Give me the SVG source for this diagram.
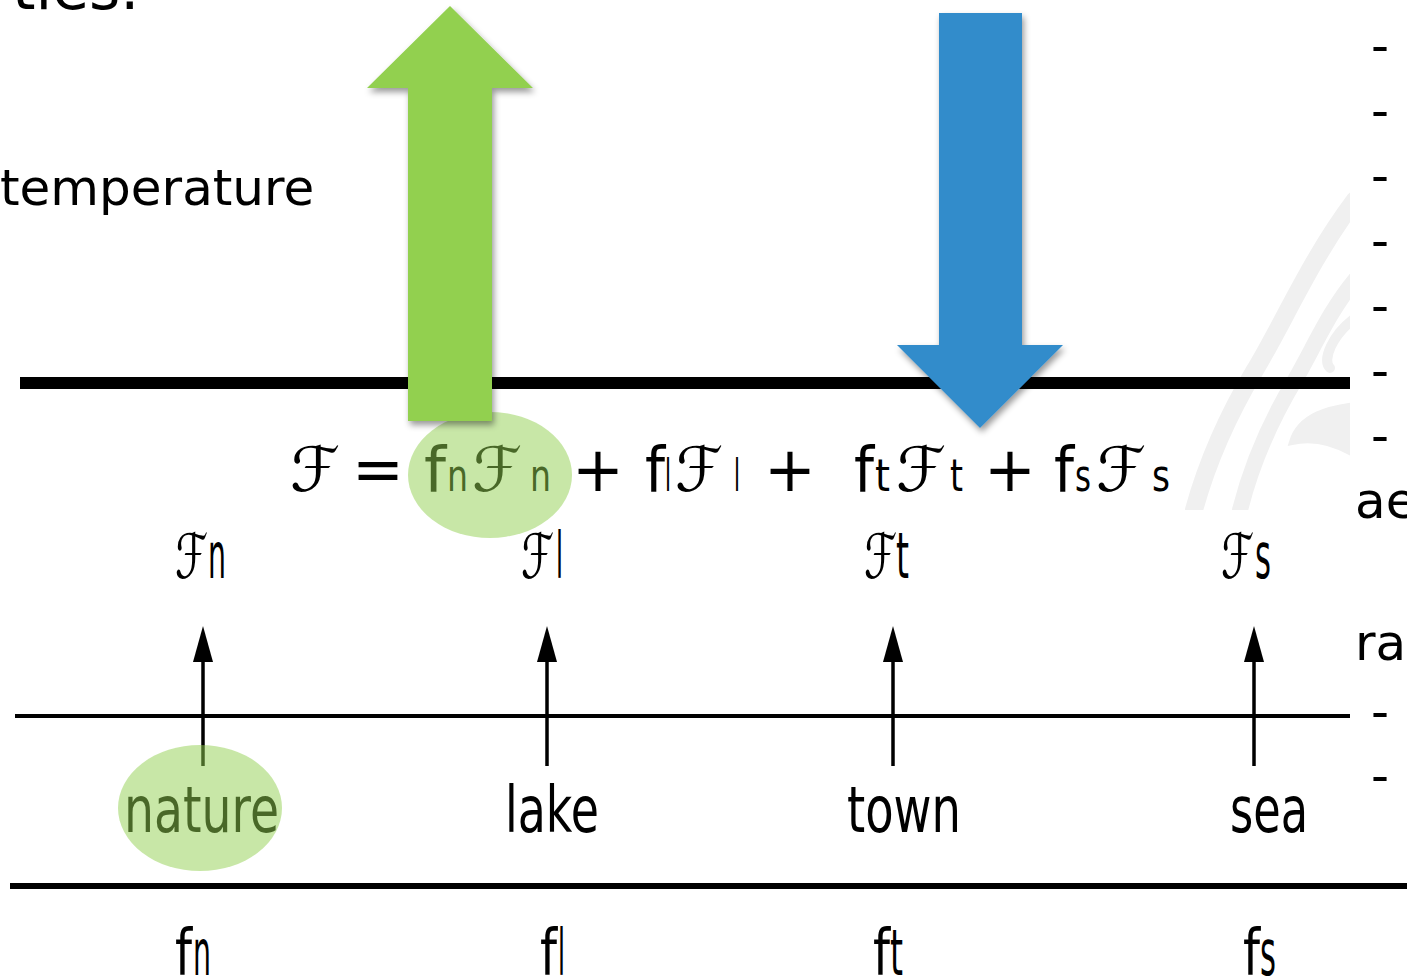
<svg xmlns="http://www.w3.org/2000/svg" width="1407" height="980" viewBox="0 0 1407 980">
<style>
text{font-family:"DejaVu Sans","Liberation Sans",sans-serif;fill:#000;font-variant-ligatures:none}
.big{font-size:50px}
.eq{font-size:62px}
.sub{font-size:44px}
.lab{font-size:64px}
.sym{font-size:62px}
.hl{fill:#92d050;fill-opacity:0.5}
.stem{stroke:#000;stroke-width:3.5}
</style>
<defs>
<filter id="sh" x="-20%" y="-20%" width="150%" height="150%">
<feDropShadow dx="2" dy="4" stdDeviation="3" flood-color="#000" flood-opacity="0.4"/>
</filter>
<clipPath id="wm"><rect x="1150" y="180" width="200" height="330"/></clipPath>
</defs>

<g id="background-text">
<text x="12" y="9" style="font-size:60px">ties.</text>
<text x="0" y="205" class="big">temperature</text>
<text x="1355" y="518" class="big">ae</text>
<text x="1355" y="660" class="big">ra</text>
<g id="ticks">
<text x="1371" y="63" class="big">-</text>
<text x="1371" y="128" class="big">-</text>
<text x="1371" y="193" class="big">-</text>
<text x="1371" y="258" class="big">-</text>
<text x="1371" y="323" class="big">-</text>
<text x="1371" y="388" class="big">-</text>
<text x="1371" y="453" class="big">-</text>
<text x="1371" y="729" class="big">-</text>
<text x="1371" y="793" class="big">-</text>
</g>
</g>

<g id="watermark" clip-path="url(#wm)" fill="none" stroke="#f0f0f0" stroke-linecap="round">
<path d="M1194,510 C1205,470 1225,420 1255,370 C1285,320 1310,260 1355,200" stroke-width="18"/>
<path d="M1240,510 C1250,470 1265,430 1295,380 C1315,345 1330,310 1355,280" stroke-width="16"/>
<path d="M1330,368 C1322,360 1332,335 1355,318" stroke-width="10"/>
<path d="M1292,442 C1300,415 1330,408 1355,405 L1355,455 C1330,440 1310,438 1292,442 Z" fill="#f0f0f0" stroke-width="6"/>
</g>

<g id="surface-line">
<line x1="20" y1="383" x2="1350" y2="383" stroke="#000" stroke-width="12"/>
</g>

<g id="equation">
<text x="290" y="491" class="sym" textLength="50" lengthAdjust="spacingAndGlyphs">ℱ</text>
<text x="352" y="491" class="eq">=</text>
<text x="424" y="491" class="eq" textLength="22" lengthAdjust="spacingAndGlyphs">f</text>
<text x="447" y="491" class="sub" textLength="21" lengthAdjust="spacingAndGlyphs">n</text>
<text x="472" y="491" class="sym" textLength="50" lengthAdjust="spacingAndGlyphs">ℱ</text>
<text x="530" y="491" class="sub" textLength="21" lengthAdjust="spacingAndGlyphs">n</text>
<text x="572" y="491" class="eq">+</text>
<text x="645" y="491" class="eq" textLength="20" lengthAdjust="spacingAndGlyphs">f</text>
<text x="665" y="491" class="sub" textLength="6" lengthAdjust="spacingAndGlyphs">l</text>
<text x="675" y="491" class="sym" textLength="48" lengthAdjust="spacingAndGlyphs">ℱ</text>
<text x="734" y="491" class="sub" textLength="6" lengthAdjust="spacingAndGlyphs">l</text>
<text x="764" y="491" class="eq">+</text>
<text x="854" y="491" class="eq" textLength="20" lengthAdjust="spacingAndGlyphs">f</text>
<text x="875" y="491" class="sub" textLength="15" lengthAdjust="spacingAndGlyphs">t</text>
<text x="896" y="491" class="sym" textLength="50" lengthAdjust="spacingAndGlyphs">ℱ</text>
<text x="950" y="491" class="sub" textLength="13" lengthAdjust="spacingAndGlyphs">t</text>
<text x="984" y="491" class="eq">+</text>
<text x="1054" y="491" class="eq" textLength="20" lengthAdjust="spacingAndGlyphs">f</text>
<text x="1075" y="491" class="sub" textLength="16" lengthAdjust="spacingAndGlyphs">s</text>
<text x="1096" y="491" class="sym" textLength="50" lengthAdjust="spacingAndGlyphs">ℱ</text>
<text x="1152" y="491" class="sub" textLength="18" lengthAdjust="spacingAndGlyphs">s</text>
<ellipse class="hl" cx="490" cy="475" rx="82" ry="63"/>
</g>

<g id="flux-arrows" filter="url(#sh)">
<polygon id="up-arrow" points="450,6 533,88 492,88 492,421 408,421 408,88 367,88" fill="#92d050"/>
<polygon id="down-arrow" points="939,13 1022,13 1022,345 1063,345 980,428 897,345 939,345" fill="#308ccb"/>
</g>

<g id="connectors">
<line x1="15" y1="716" x2="1350" y2="716" stroke="#000" stroke-width="4"/>
<line x1="10" y1="886" x2="1407" y2="886" stroke="#000" stroke-width="6"/>
<g id="arrow-nature"><line class="stem" x1="203" y1="766" x2="203" y2="655"/><polygon points="203,626 213,662 193,662"/></g>
<g id="arrow-lake"><line class="stem" x1="547" y1="766" x2="547" y2="655"/><polygon points="547,626 557,662 537,662"/></g>
<g id="arrow-town"><line class="stem" x1="893" y1="766" x2="893" y2="655"/><polygon points="893,626 903,662 883,662"/></g>
<g id="arrow-sea"><line class="stem" x1="1254" y1="766" x2="1254" y2="655"/><polygon points="1254,626 1264,662 1244,662"/></g>
</g>

<g id="node-nature">
<text x="175" y="578" class="sym" textLength="33" lengthAdjust="spacingAndGlyphs">ℱ</text>
<text x="208" y="578" class="lab" textLength="18" lengthAdjust="spacingAndGlyphs">n</text>
<text x="124" y="832" class="lab" textLength="155" lengthAdjust="spacingAndGlyphs">nature</text>
<text x="175" y="975" class="lab" textLength="17" lengthAdjust="spacingAndGlyphs">f</text>
<text x="193" y="975" class="lab" textLength="18" lengthAdjust="spacingAndGlyphs">n</text>
<ellipse class="hl" cx="200" cy="808" rx="82" ry="63"/>
</g>
<g id="node-lake">
<text x="521" y="578" class="sym" textLength="33" lengthAdjust="spacingAndGlyphs">ℱ</text>
<text x="556" y="578" class="lab" textLength="7" lengthAdjust="spacingAndGlyphs">l</text>
<text x="505" y="832" class="lab" textLength="94" lengthAdjust="spacingAndGlyphs">lake</text>
<text x="540" y="975" class="lab" textLength="17" lengthAdjust="spacingAndGlyphs">f</text>
<text x="558" y="975" class="lab" textLength="7" lengthAdjust="spacingAndGlyphs">l</text>
</g>
<g id="node-town">
<text x="864" y="578" class="sym" textLength="33" lengthAdjust="spacingAndGlyphs">ℱ</text>
<text x="896" y="578" class="lab" textLength="13" lengthAdjust="spacingAndGlyphs">t</text>
<text x="873" y="975" class="lab" textLength="17" lengthAdjust="spacingAndGlyphs">f</text>
<text x="890" y="975" class="lab" textLength="13" lengthAdjust="spacingAndGlyphs">t</text>
<text x="847" y="832" class="lab" textLength="114" lengthAdjust="spacingAndGlyphs">town</text>
</g>
<g id="node-sea">
<text x="1221" y="578" class="sym" textLength="33" lengthAdjust="spacingAndGlyphs">ℱ</text>
<text x="1255" y="578" class="lab" textLength="16" lengthAdjust="spacingAndGlyphs">s</text>
<text x="1230" y="832" class="lab" textLength="78" lengthAdjust="spacingAndGlyphs">sea</text>
<text x="1243" y="975" class="lab" textLength="17" lengthAdjust="spacingAndGlyphs">f</text>
<text x="1260" y="975" class="lab" textLength="16" lengthAdjust="spacingAndGlyphs">s</text>
</g>
</svg>
